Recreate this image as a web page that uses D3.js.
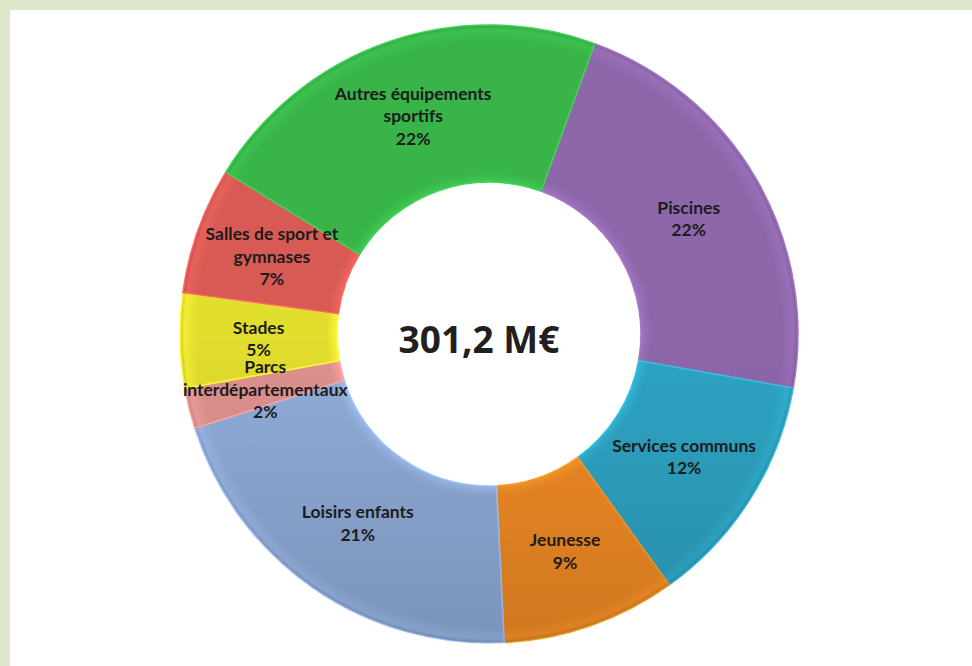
<!DOCTYPE html>
<html>
<head>
<meta charset="utf-8">
<script src="https://cdn.jsdelivr.net/npm/d3@7"></script>
<style>
  html, body { margin: 0; padding: 0; background: #dfe7cb; }
  svg { display: block; }
</style>
</head>
<body>
<svg id="chart" width="972" height="666"></svg>
<script>
// données (M€), ordre horaire depuis le haut
var categories = ['Piscines', 'Services communs', 'Jeunesse', 'Loisirs enfants',
  'Parcs interdépartementaux', 'Stades', 'Salles de sport et gymnases', 'Autres équipements sportifs']
var labelLines = [
  ['Piscines'], ['Services communs'], ['Jeunesse'], ['Loisirs enfants'],
  ['Parcs', 'interdépartementaux'], ['Stades'], ['Salles de sport et', 'gymnases'],
  ['Autres équipements', 'sportifs']
]
var values = [67.0, 37.0, 27.5, 62.8, 6.4, 14.9, 20.0, 65.6]
var colors = ['#8e67ab', '#2ea4c4', '#f28b25', '#90acd9', '#e0928f', '#e2de2e', '#d85a55', '#38b449']
var totalLabel = '301,2 M€'

var svg = d3.select('#chart')
var width = +svg.attr('width'),
    height = +svg.attr('height')

// panneau blanc
svg.append('rect')
  .attr('x', 10).attr('y', 10)
  .attr('width', width - 10).attr('height', height - 10)
  .attr('fill', '#ffffff')

var cx = 489, cy = 334
var outerR = 309, innerR = 152
var total = d3.sum(values)

var pie = d3.pie()
  .value(function (d) { return d })
  .sort(null)
  .startAngle(20 * Math.PI / 180)
  .endAngle(20 * Math.PI / 180 + 2 * Math.PI)

var arc = d3.arc().innerRadius(innerR).outerRadius(outerR)

// léger effet de biseau
var defs = svg.append('defs')
colors.forEach(function (c, i) {
  var gr = defs.append('radialGradient')
    .attr('id', 'grad' + i)
    .attr('gradientUnits', 'userSpaceOnUse')
    .attr('cx', 0).attr('cy', 0).attr('r', outerR)
  var base = d3.color(c)
  gr.append('stop').attr('offset', innerR / outerR).attr('stop-color', base.brighter(0.3))
  gr.append('stop').attr('offset', (innerR + 10) / outerR).attr('stop-color', base)
  gr.append('stop').attr('offset', 0.95).attr('stop-color', base)
  gr.append('stop').attr('offset', 0.985).attr('stop-color', base.brighter(0.2))
  gr.append('stop').attr('offset', 1).attr('stop-color', base.darker(0.25))
})
// ombrage vers le bas
var shade = defs.append('linearGradient')
  .attr('id', 'shade')
  .attr('gradientUnits', 'userSpaceOnUse')
  .attr('x1', 0).attr('y1', 0).attr('x2', 0).attr('y2', outerR)
shade.append('stop').attr('offset', 0).attr('stop-color', '#000').attr('stop-opacity', 0)
shade.append('stop').attr('offset', 1).attr('stop-color', '#000').attr('stop-opacity', 0.14)

var g = svg.append('g').attr('transform', 'translate(' + cx + ',' + cy + ')')

var arcs = pie(values)

g.selectAll('path.slice')
  .data(arcs)
  .enter()
  .append('path')
  .attr('class', 'slice')
  .attr('d', arc)
  .attr('fill', function (d, i) { return 'url(#grad' + i + ')' })
  .attr('stroke', function (d, i) { return d3.color(colors[i]).brighter(0.45) })
  .style('stroke-width', 1.5)

g.selectAll('path.shade')
  .data(arcs)
  .enter()
  .append('path')
  .attr('class', 'shade')
  .attr('d', arc)
  .attr('fill', 'url(#shade)')

// étiquettes
var lineH = 22.5
var labels = g.selectAll('text.label')
  .data(arcs)
  .enter()
  .append('text')
  .attr('class', 'label')
  .attr('text-anchor', 'middle')
  .style('font-family', 'Lato, "Open Sans", sans-serif')
  .style('font-weight', 'bold')
  .style('font-size', '17.5px')
  .style('fill', '#1c1c1c')
  .attr('transform', function (d) {
    var c = arc.centroid(d)
    return 'translate(' + c[0] + ',' + c[1] + ')'
  })

labels.each(function (d, i) {
  var lines = labelLines[i].concat([Math.round(values[i] / total * 100) + '%'])
  var t = d3.select(this)
  var y0 = -(lines.length - 1) * lineH / 2
  lines.forEach(function (l, k) {
    t.append('tspan')
      .attr('x', 0)
      .attr('y', y0 + k * lineH)
      .attr('dy', '0.35em')
      .text(l)
  })
})

// total au centre
svg.append('text')
  .attr('x', 479)
  .attr('y', 340)
  .attr('dy', '0.35em')
  .attr('text-anchor', 'middle')
  .style('font-family', '"Open Sans", sans-serif')
  .style('font-weight', 'bold')
  .style('font-size', '37px')
  .style('fill', '#231f20')
  .text(totalLabel)
</script>
</body>
</html>
